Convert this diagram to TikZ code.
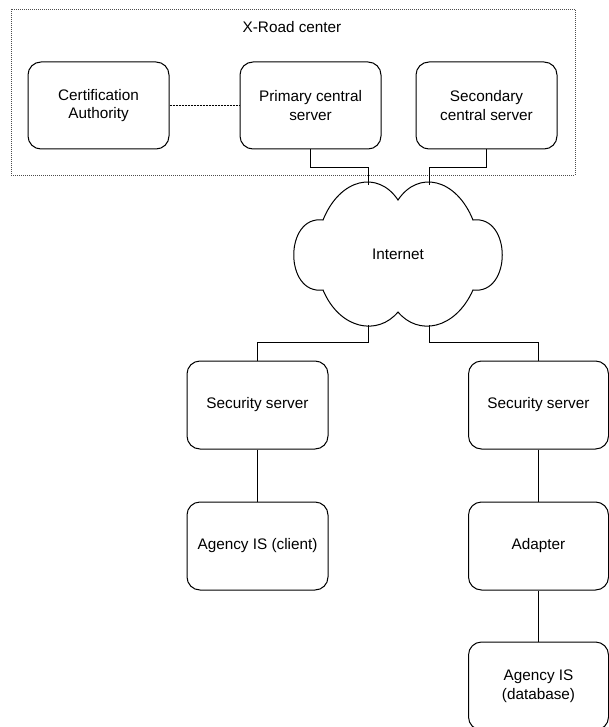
\documentclass[tikz,border=0pt]{standalone}
\usepackage{fontspec}
\setmainfont{Liberation Sans}
\begin{document}
\begin{tikzpicture}[x=1pt,y=-1pt,
  every node/.style={font=\fontsize{15.3}{18.5}\selectfont, text=black},
  box/.style={draw=black, line width=1pt, rounded corners=13pt, minimum width=141pt, minimum height=88pt, align=center, inner sep=0pt},
  link/.style={draw=black, line width=1pt},
  dotlink/.style={draw=black, line width=0.9pt, dash pattern=on 2pt off 1pt},
  groupbox/.style={draw=black!70, line width=0.8pt, dash pattern=on 1pt off 1pt}
]
\useasboundingbox (0,0) rectangle (609,727);

% X-Road center group
\draw[groupbox] (11,9) rectangle (575,175);
\node (xroad) at (292,27) {X-Road center};

\node[box, minimum height=87pt] (ca) at (98.5,105.5) {Certification\\Authority};
\node[box, minimum height=87pt] (prim) at (310.5,105.5) {Primary central\\server};
\node[box, minimum height=87pt] (sec) at (486.5,105.5) {Secondary\\central server};

\draw[dotlink] (ca.east) -- (prim.west);

% Cloud
\draw[line width=1pt]
  (323,220) .. controls (340,178) and (378,170) .. (398,200)
  .. controls (418,170) and (456,178) .. (473,220)
  .. controls (512,215) and (512,295) .. (473,290)
  .. controls (455,330) and (418,336) .. (398,312)
  .. controls (378,336) and (340,330) .. (323,290)
  .. controls (284,295) and (284,215) .. cycle;
\node (internet) at (398,254) {Internet};
\coordinate (ct1) at (368.5,185);
\coordinate (ct2) at (429.5,185);
\coordinate (cb1) at (368.5,325);
\coordinate (cb2) at (429.5,325);

\draw[link] (prim.south) -- ++(0,18) -| (ct1);
\draw[link] (sec.south) -- ++(0,18) -| (ct2);

% Lower part
\node[box] (ss1) at (257.5,405) {Security server};
\node[box, minimum width=140pt] (ss2) at (538.5,405) {Security server};
\node[box] (client) at (257.5,546) {Agency IS (client)};
\node[box, minimum width=140pt] (adapter) at (538.5,546) {Adapter};
\node[box, minimum width=140pt] (db) at (538.5,686) {Agency IS\\(database)};

\draw[link] (ss1.north) -- ++(0,-18) -| (cb1);
\draw[link] (ss2.north) -- ++(0,-18) -| (cb2);
\draw[link] (ss1.south) -- (client.north);
\draw[link] (ss2.south) -- (adapter.north);
\draw[link] (adapter.south) -- (db.north);
\end{tikzpicture}
\end{document}
